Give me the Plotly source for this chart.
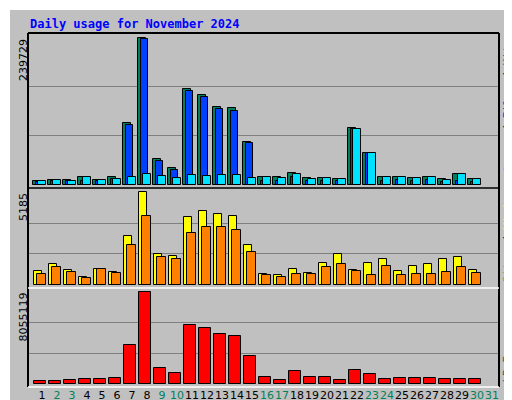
import plotly.graph_objects as go

days = list(range(1, 31))
hits = [5700, 7700, 7700, 13000, 7700, 13000, 100100, 239729, 41900, 26600, 155600, 145800, 126200, 124600, 69200,
        13000, 11900, 19100, 10300, 10300, 8600, 91800, 51000, 11900, 13000, 10300, 13000, 8600, 16800, 8600]
files = [4900, 6000, 5400, 6000, 6000, 9800, 96900, 238100, 38000, 23300, 153300, 142500, 123000, 119700, 67500,
         6000, 5700, 13000, 5000, 6000, 5000, 90200, 51000, 5000, 8000, 5000, 8000, 4500, 5000, 4500]
pages = [5700, 7700, 6000, 11900, 7700, 9800, 11900, 17500, 13500, 10300, 15800, 13500, 15800, 15800, 10300,
         13000, 10300, 17500, 8600, 10300, 8600, 90200, 51000, 11900, 13000, 10300, 13000, 7000, 16800, 8600]
visits = [749, 1142, 805, 412, 861, 693, 2714, 5185, 1704, 1591, 3781, 4118, 3950, 3837, 2209,
          580, 524, 861, 636, 1198, 1704, 805, 1198, 1423, 749, 1030, 1142, 1423, 1535, 805]
sites = [580, 973, 693, 356, 861, 636, 2209, 3838, 1535, 1423, 2883, 3220, 3220, 3051, 1816,
         524, 412, 580, 580, 973, 1142, 749, 524, 1030, 524, 580, 580, 693, 973, 636]
kbytes = [205800, 205800, 294000, 382200, 382200, 470400, 3380800, 8055119, 1352300, 911300, 5144700, 4880100,
          4350900, 4174500, 2410600, 558600, 294000, 1087700, 558600, 558600, 294000, 1175900, 823100, 382200,
          470400, 470400, 470400, 382200, 382200, 382200]
weekend = {2, 3, 9, 10, 16, 17, 23, 24, 30, 31}
tick_days = list(range(1, 32))

L, T, W = 20, 25, 471
H = 354
def px(p): return (p - L) / W
def py(p): return 1 - (p - T) / H

fig = go.Figure()
line = dict(color="black", width=1)
fig.add_bar(x=[d for d in days], y=hits, width=8/15, marker=dict(color="#00805C", line=line), yaxis="y3")
fig.add_bar(x=[d + 2/15 for d in days], y=files, width=7/15, marker=dict(color="#0040FF", line=line), yaxis="y3")
fig.add_bar(x=[d + 5/15 for d in days], y=pages, width=8/15, marker=dict(color="#00E0FF", line=line), yaxis="y3")
fig.add_bar(x=[d + 1/15 for d in days], y=visits, width=8/15, marker=dict(color="#FFFF00", line=line), yaxis="y2")
fig.add_bar(x=[d + 4.5/15 for d in days], y=sites, width=9/15, marker=dict(color="#FF8000", line=line), yaxis="y2")
fig.add_bar(x=[d + 3/15 for d in days], y=kbytes, width=12/15, marker=dict(color="#FF0000", line=line), yaxis="y")

ticktext = [f'<span style="color:{"#00805C" if d in weekend else "black"}">{d}</span>' for d in tick_days]
grid = dict(showgrid=True, gridcolor="#808080", gridwidth=1, showticklabels=False, zeroline=False, ticks="")
fig.update_layout(
    width=512, height=400, barmode="overlay", showlegend=False, bargap=0,
    paper_bgcolor="#C0C0C0", plot_bgcolor="#C0C0C0",
    margin=dict(l=L, r=512 - L - W, t=T, b=400 - T - H, pad=0, autoexpand=False),
    font=dict(family="DejaVu Sans Mono", size=11, color="black"),
    xaxis=dict(range=[0.4, 31.8], tickvals=[d + 0.33 for d in tick_days], ticktext=ticktext, tickangle=0,
               automargin=False, showgrid=False, zeroline=False, ticks="",
               tickfont=dict(size=11, family="DejaVu Sans")),
    yaxis=dict(domain=[0, 99/H], range=[-290800, 8434000], tickvals=[8055119/3, 8055119*2/3], **grid),
    yaxis2=dict(domain=[99/H, 199/H], range=[-185, 5425], tickvals=[5185/3, 5185*2/3], **grid),
    yaxis3=dict(domain=[199/H, 1], range=[-5700, 247100], tickvals=[239729/3, 239729*2/3], **grid),
)
shapes = []
def ln(x0, y0, x1, y1, c, w=1):
    shapes.append(dict(type="line", xref="paper", yref="paper", x0=px(x0), y0=py(y0), x1=px(x1), y1=py(y1),
                       line=dict(color=c, width=w)))
ln(20, 25, 491, 25, "black", 2); ln(20, 25, 20, 379, "black", 2); ln(491, 25, 491, 379, "black", 2)
ln(20, 379, 491, 379, "white", 1.5); ln(20, 180, 491, 180, "black", 1.5); ln(20, 280, 491, 280, "white", 1.5)
ln(0, 1, 512, 1, "white", 2); ln(1, 0, 1, 400, "white", 2)
ln(0, 398, 512, 398, "#808080", 3); ln(510, 0, 510, 400, "#808080", 4)
fig.update_layout(shapes=shapes)

def ann(x, y, text, **kw):
    fig.add_annotation(xref="paper", yref="paper", x=px(x), y=py(y), text=text, showarrow=False, **kw)
ann(20, 16, "<b>Daily usage for November 2024</b>", xanchor="left", yanchor="middle",
    font=dict(color="#0000FF", size=12, family="DejaVu Sans Mono"))
for y, t in [(29, "239729"), (183, "5185"), (283, "8055119")]:
    ann(15, y, t, textangle=-90, xanchor="center", yanchor="top", font=dict(size=11, family="DejaVu Sans"))
ann(499, 29, '<span style="color:#00E0FF">Pages</span> / <span style="color:#0040FF">Files</span> / '
    '<span style="color:#00805C">Hits</span>', textangle=-90, xanchor="center", yanchor="top")
ann(499, 180, '<span style="color:#FF8000">Sites</span> / <span style="color:#FFFF00">Visits</span>',
    textangle=-90, xanchor="center", yanchor="top")
ann(499, 377, '<span style="color:#FF0000">kB F</span>', textangle=-90, xanchor="center", yanchor="bottom")
fig.write_html("out.html")
